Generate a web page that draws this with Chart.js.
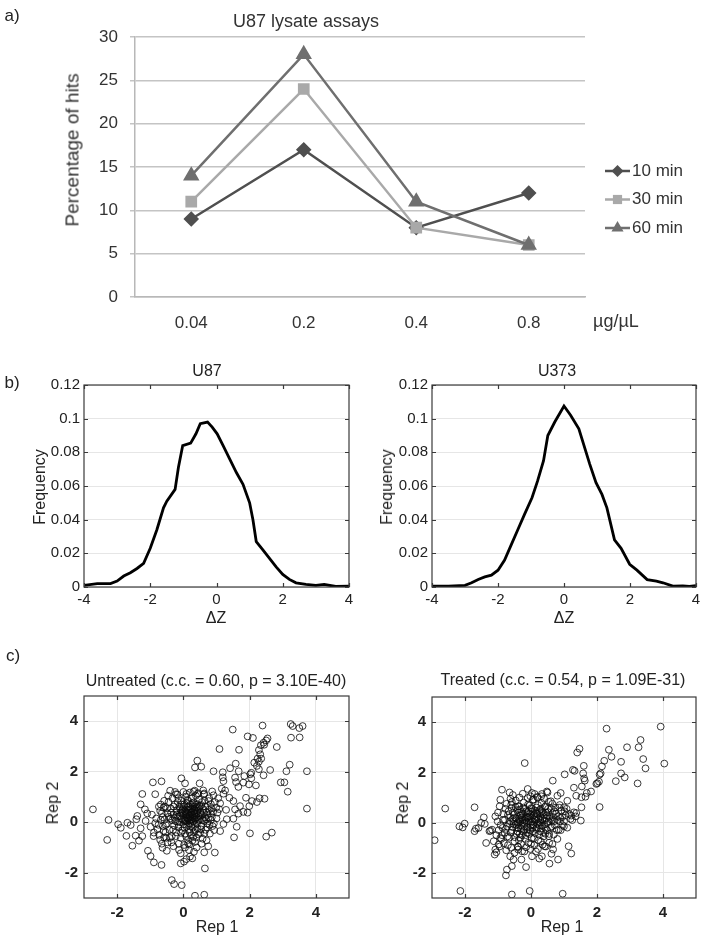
<!DOCTYPE html>
<html>
<head>
<meta charset="utf-8">
<script src="https://cdn.jsdelivr.net/npm/chart.js@4.4.1/dist/chart.umd.min.js"></script>
<style>
  body { margin: 0; background: #fff; font-family: "Liberation Sans", Arial, sans-serif; }
  #page { position: relative; width: 705px; height: 942px; overflow: hidden; }
  .panel { position: absolute; }
  .txt { position: absolute; white-space: nowrap; color: #222; line-height: 1; transform: translate(-50%, -50%); }
  .rot { transform: translate(-50%, -50%) rotate(-90deg); }
</style>
</head>
<body>
<div id="page">
  <div class="panel" style="left:0;top:0"><canvas id="chartA" width="705" height="340"></canvas></div>
  <div class="panel" style="left:0;top:340px"><canvas id="chartB1" width="360" height="290"></canvas></div>
  <div class="panel" style="left:350px;top:340px"><canvas id="chartB2" width="355" height="290"></canvas></div>
  <div class="panel" style="left:0;top:640px"><canvas id="chartC1" width="360" height="302"></canvas></div>
  <div class="panel" style="left:350px;top:640px"><canvas id="chartC2" width="355" height="302"></canvas></div>

  <div class="txt" style="left:12px;top:15px;font-size:17px">a)</div>
  <div class="txt" style="left:306px;top:21px;font-size:18px;color:#333">U87 lysate assays</div>
  <div class="txt rot" style="left:72px;top:150px;font-size:19px;color:#333">Percentage of hits</div>
  <div class="txt" style="left:616px;top:321px;font-size:18px;color:#333">µg/µL</div>

  <div class="txt" style="left:12px;top:382px;font-size:17px">b)</div>
  <div class="txt" style="left:207px;top:371px;font-size:16px">U87</div>
  <div class="txt" style="left:557px;top:371px;font-size:16px">U373</div>
  <div class="txt rot" style="left:40px;top:487px;font-size:16px">Frequency</div>
  <div class="txt rot" style="left:387px;top:487px;font-size:16px">Frequency</div>
  <div class="txt" style="left:216px;top:618px;font-size:16px">ΔZ</div>
  <div class="txt" style="left:564px;top:618px;font-size:16px">ΔZ</div>

  <div class="txt" style="left:13px;top:655px;font-size:17px">c)</div>
  <div class="txt" style="left:216px;top:681px;font-size:16px">Untreated (c.c. = 0.60, p = 3.10E-40)</div>
  <div class="txt" style="left:563px;top:680px;font-size:16px">Treated (c.c. = 0.54, p = 1.09E-31)</div>
  <div class="txt rot" style="left:53px;top:803px;font-size:16px">Rep 2</div>
  <div class="txt rot" style="left:403px;top:803px;font-size:16px">Rep 2</div>
  <div class="txt" style="left:217px;top:927px;font-size:16px">Rep 1</div>
  <div class="txt" style="left:562px;top:927px;font-size:16px">Rep 1</div>
</div>
<script>
// a) hits per lysate concentration
const doseLabels = ['0.04', '0.2', '0.4', '0.8'];
const hits10 = [9, 17, 8, 12];
const hits30 = [11, 24, 8, 6];
const hits60 = [14, 28, 11, 6];

// b) delta Z frequency curves
const u87Z = [-4, -3.6, -3.2, -3.0, -2.8, -2.6, -2.4, -2.2, -2.0, -1.8, -1.6, -1.5, -1.25, -1.15, -1.02, -0.78, -0.62, -0.49, -0.27, -0.13, 0.02, 0.2, 0.4, 0.6, 0.8, 1.0, 1.1, 1.2, 1.4, 1.6, 1.8, 2.0, 2.2, 2.4, 2.7, 3.0, 3.25, 3.6, 4.0];
const u87Freq = [0.001, 0.002, 0.002, 0.0035, 0.0065, 0.0085, 0.011, 0.014, 0.023, 0.034, 0.047, 0.051, 0.058, 0.071, 0.084, 0.0855, 0.091, 0.097, 0.098, 0.095, 0.091, 0.084, 0.076, 0.068, 0.061, 0.050, 0.040, 0.027, 0.022, 0.017, 0.012, 0.0075, 0.0045, 0.0025, 0.0015, 0.001, 0.0015, 0.0003, 0.0005];
const u373Z = [-4, -3.5, -3.0, -2.8, -2.6, -2.4, -2.2, -2.0, -1.8, -1.6, -1.4, -1.2, -0.97, -0.8, -0.62, -0.49, -0.28, 0, 0.2, 0.45, 0.78, 0.97, 1.15, 1.3, 1.53, 1.73, 1.99, 2.21, 2.52, 2.8, 3.0, 3.3, 3.6, 3.8, 4.0];
const u373Freq = [0.0005, 0.0005, 0.001, 0.0025, 0.0045, 0.006, 0.007, 0.010, 0.016, 0.025, 0.034, 0.043, 0.053, 0.063, 0.075, 0.090, 0.098, 0.1075, 0.102, 0.094, 0.073, 0.062, 0.055, 0.047, 0.028, 0.023, 0.0135, 0.010, 0.0044, 0.0035, 0.0025, 0.0005, 0.0007, 0.0003, 0.0008];
const zTicks = [-4, -2, 0, 2, 4];
const freqTicks = [0, 0.02, 0.04, 0.06, 0.08, 0.1, 0.12];

// c) replicate scatter, [rep1, rep2]
const repTicks = [-2, 0, 2, 4];
const untreatedPts = [
  [-2.73,0.51],[-2.26,0.09],[-2.30,-0.70],[-1.97,-0.08],[-1.89,-0.22],[-1.69,-0.02],[-1.59,-0.11],[-1.72,-0.54],[-1.54,-0.93],[-1.44,-0.53],
  [-1.39,0.25],[-1.42,0.12],[-1.29,0.71],[-1.24,1.12],[-1.16,0.51],[-1.09,0.35],[-1.14,0.05],[-1.34,-0.73],[-1.24,-0.55],[-1.29,-0.24],
  [-1.07,-1.13],[-0.99,-1.34],[-0.89,-1.59],[-0.66,-1.69],[-0.85,1.11],[-0.92,1.58],[-0.66,1.62],[-0.85,-0.04],[-0.99,-0.18],[-0.89,-0.41],
  [-0.73,-0.50],[-0.68,0.09],[-0.60,0.58],[-0.53,-0.11],[-0.58,-0.60],[-0.48,-0.80],[-0.63,-1.01],[-0.50,-1.13],[-0.22,1.11],[-0.06,1.74],
  [0.05,1.54],[-0.13,-1.10],[-0.08,-1.23],[0.02,-1.56],[0.09,-1.46],[-0.08,-1.63],[0.20,-1.36],[0.27,-1.43],[0.17,-1.10],[0.14,-0.84],
  [0.27,-0.73],[0.32,-1.17],[0.63,-1.19],[0.95,-1.20],[0.65,-1.83],[-0.35,-2.29],[-0.28,-2.45],[-0.05,-2.49],[0.35,-2.91],[0.63,-2.87],
  [0.49,1.54],[0.42,1.12],[0.63,1.14],[1.61,-0.18],[1.53,-0.60],[2.01,-0.44],[1.11,-0.35],[1.21,-0.07],[0.93,-0.31],[0.83,0.09],
  [2.50,-0.57],[2.67,-0.41],
  [1.49,3.67],[2.39,3.83],[1.94,3.40],[2.10,3.34],[2.54,3.32],[2.50,3.24],[2.42,3.15],[2.34,3.05],[2.44,3.07],[2.82,2.98],
  [3.24,3.89],[3.30,3.81],[3.50,3.73],[3.60,3.81],[3.25,3.35],[3.51,3.36],[1.09,2.90],[1.68,2.87],[2.28,2.86],[2.32,2.69],
  [2.24,2.52],[2.35,2.52],[2.28,2.40],[2.22,2.23],[2.28,2.10],[2.14,2.36],[0.42,2.44],[0.35,2.17],[0.54,2.20],[0.91,2.02],
  [1.19,1.98],[1.41,2.14],[1.58,2.32],[1.67,2.02],[2.05,1.96],[2.62,2.07],[3.21,2.28],[3.11,2.02],[3.73,2.02],[2.42,1.86],
  [1.84,1.83],[2.02,1.90],[1.56,1.77],[1.19,1.78],[1.59,1.59],[1.81,1.57],[1.21,1.63],[2.05,1.74],[2.19,1.46],[1.98,1.50],
  [1.66,1.40],[2.94,1.58],[3.05,1.58],[3.15,1.21],[1.16,1.33],[1.26,1.26],[0.87,1.22],[0.09,1.12],[0.31,1.21],[0.60,1.26],
  [0.91,1.07],[1.21,1.13],[1.39,0.97],[1.89,0.97],[2.07,0.84],[2.30,0.95],[2.45,0.93],[2.22,0.80],[1.51,0.84],[1.71,0.64],
  [1.99,0.64],[3.73,0.54],[1.94,0.38],[1.81,0.41],[1.56,0.51],[1.29,0.49],[1.11,0.75],[1.66,0.34],[1.51,0.14],[1.31,0.12],
  [1.03,0.38],[0.99,0.58],[0.76,0.84],[0.50,0.64],
  [-0.70,0.45],[-0.62,0.20],[-0.55,0.62],[-0.50,-0.05],[-0.48,0.35],[-0.45,0.80],[-0.42,-0.30],[-0.40,0.15],[-0.38,0.55],[-0.35,-0.55],
  [-0.33,0.95],[-0.30,0.30],[-0.28,-0.12],[-0.26,0.70],[-0.24,0.05],[-0.22,-0.40],[-0.20,0.48],[-0.18,1.10],[-0.16,0.22],[-0.15,-0.20],
  [-0.12,0.62],[-0.10,0.00],[-0.09,0.38],[-0.08,-0.62],[-0.06,0.85],[-0.05,0.15],[-0.03,-0.32],[-0.02,0.52],[0.00,0.28],[0.01,-0.08],
  [0.03,0.72],[0.04,0.10],[0.05,-0.45],[0.06,0.42],[0.08,1.02],[0.09,0.20],[0.10,-0.18],[0.11,0.60],[0.12,0.02],[0.13,0.35],
  [0.14,-0.70],[0.15,0.85],[0.16,0.15],[0.17,-0.30],[0.18,0.50],[0.19,0.25],[0.20,-0.05],[0.21,0.70],[0.22,0.38],[0.23,-0.52],
  [0.24,0.10],[0.25,0.95],[0.26,0.55],[0.27,0.22],[0.28,-0.22],[0.29,0.42],[0.30,0.02],[0.31,0.78],[0.32,-0.40],[0.33,0.30],
  [0.34,0.62],[0.35,-0.10],[0.36,0.48],[0.37,0.15],[0.38,1.05],[0.39,-0.60],[0.40,0.35],[0.42,0.72],[0.43,-0.25],[0.44,0.05],
  [0.45,0.55],[0.46,0.25],[0.48,0.90],[0.50,-0.42],[0.51,0.40],[0.52,0.12],[0.54,0.68],[0.55,-0.15],[0.57,0.30],[0.58,-0.65],
  [0.60,0.52],[0.62,0.05],[0.64,0.85],[0.65,0.20],[0.67,-0.30],[0.70,0.40],[0.72,-0.05],[0.74,0.65],[0.76,0.18],[0.80,-0.45],
  [0.82,0.35],[0.85,0.55],[0.88,-0.15],[-0.60,-0.35],[-0.58,0.85],[-0.52,-0.62],[-0.46,1.05],[-0.36,-0.80],[-0.25,1.20],[-0.14,-0.85],
  [0.02,-0.90],[0.18,-0.88],[0.35,-0.78],[0.55,-0.85],[0.70,-0.72],[-0.75,-0.10],[-0.68,0.70],[0.45,1.15],[0.62,1.10],[0.78,0.95],
  [-0.05,0.45],[0.14,0.48],[0.28,0.62],[0.06,0.30],[0.22,0.18],[0.32,0.45],[0.10,0.75],[-0.20,0.30],[0.40,0.60],[0.50,0.25],
  [-0.95,0.30],[-0.90,-0.55],[-0.82,0.15],[-0.78,-0.28],[-0.74,0.62],[-0.70,-0.70],[-0.65,0.35],[-0.62,-0.15],[-0.57,0.10],[-0.54,-0.40],
  [-0.49,0.55],[-0.44,0.22],[-0.41,-0.62],[-0.37,0.38],[-0.34,0.08],[-0.31,-0.30],[-0.29,0.62],[-0.27,0.18],[-0.23,-0.55],[-0.21,0.40],
  [-0.19,0.02],[-0.17,0.80],[-0.14,-0.10],[-0.11,0.25],[-0.10,0.52],[-0.07,-0.42],[-0.04,0.35],[-0.01,0.10],[0.01,0.62],[0.03,-0.22],
  [0.05,0.45],[0.07,0.05],[0.08,-0.55],[0.10,0.38],[0.12,0.88],[0.13,0.15],[0.15,-0.12],[0.16,0.62],[0.18,0.30],[0.19,-0.40],
  [0.21,0.08],[0.22,0.52],[0.24,-0.15],[0.26,0.30],[0.27,0.75],[0.29,0.05],[0.30,-0.58],[0.32,0.18],[0.33,0.52],[0.35,0.35],
  [0.37,-0.30],[0.38,0.70],[0.40,0.20],[0.41,-0.05],[0.43,0.45],[0.45,-0.48],[0.47,0.10],[0.49,0.62],[0.52,0.35],[0.53,-0.28],
  [0.56,0.80],[0.59,0.08],[0.61,0.38],[0.63,-0.45],[0.66,0.62],[0.68,0.12],[0.71,-0.20],[0.73,0.30],[0.77,0.50],[0.79,-0.10],
  [0.83,0.72],[0.86,0.20],[0.90,0.42],[0.92,-0.05],[0.95,0.80],[1.00,0.15],[1.05,0.95],[1.08,0.52],[-0.15,0.95],[0.00,1.20],
  [0.20,1.18],[0.34,1.25],[-0.40,1.25],[-0.65,-0.85],[-0.30,-0.95],[0.05,-1.00],[0.40,-1.00],[0.75,-0.95],[0.10,0.20],[0.25,0.40],
  [0.05,0.05],[0.35,0.10],[-0.05,0.70],[0.18,0.08]
];
const treatedPts = [
  [-2.92,-0.70],[-2.60,0.56],[-2.14,-2.72],[-2.17,-0.15],[-2.07,-0.19],[-2.01,-0.04],[-1.71,0.61],[-1.71,-0.34],[-1.67,-0.24],[-1.59,-0.21],
  [-1.43,0.21],[-1.51,-0.01],[-1.36,-0.81],[-1.40,-0.05],[-1.23,-0.32],[-1.26,-0.34],[-1.18,-0.28],[-1.13,-0.74],[-1.08,-1.07],[-1.05,-1.18],
  [-1.10,-1.27],[-0.98,-0.87],[-0.93,-0.61],[-0.88,1.31],[-0.93,0.91],[-1.08,0.25],[-1.01,0.05],[-0.86,-0.21],[-0.73,-1.87],[-0.76,-2.10],
  [-0.58,-1.73],[-0.53,-1.47],[-0.63,-1.34],[-0.58,-2.86],[-0.19,2.37],[-0.04,-2.72],[0.96,-2.83],[-0.65,1.20],[-0.58,0.82],[-0.39,0.65],
  [-0.10,1.34],[-0.02,1.05],[0.03,1.18],[0.19,1.02],[0.33,1.14],[0.48,1.24],[1.14,-0.94],[1.22,-1.23],[0.82,-1.47],[0.56,-1.63],
  [0.33,-1.34],[0.21,-1.05],[0.25,-1.43],[0.03,-1.34],[-0.02,-1.05],[-0.15,-1.77],[-0.29,-1.47],[-0.39,-0.97],[-0.39,-1.07],[-0.27,-1.14],
  [0.67,-1.07],[0.62,-1.24],[0.41,-0.94],[1.02,0.45],[0.89,0.19],[0.72,0.45],[1.00,-0.15],[0.84,-0.28],[0.69,-0.48],[0.54,-0.54],
  [0.43,-0.44],
  [2.29,3.74],[3.93,3.82],[3.32,3.29],[3.26,3.00],[2.91,3.00],[2.36,2.90],[2.44,2.62],[2.22,2.46],[2.15,2.24],[2.11,1.96],
  [2.08,1.91],[3.40,2.53],[3.47,2.16],[4.04,2.35],[2.73,2.42],[2.73,1.96],[2.84,1.80],[2.57,1.65],[3.23,1.56],[1.47,2.94],
  [1.40,2.79],[1.27,2.10],[1.32,2.06],[1.02,1.92],[0.66,1.67],[1.60,2.26],[1.58,1.96],[1.61,1.76],[1.63,1.67],[1.30,1.39],
  [1.54,1.44],[1.82,1.24],[1.69,1.18],[2.01,1.57],[2.06,1.63],[1.98,1.54],[2.08,0.62],[1.37,1.07],[1.53,1.01],[1.65,1.03],
  [1.10,0.87],[0.90,1.18],[0.80,1.07],[0.50,1.20],[0.31,1.05],[0.54,0.83],[0.87,0.70],[1.00,0.61],[1.30,0.41],[1.37,0.38],
  [1.22,0.28],[1.51,0.08],[1.53,0.61],[0.11,1.14],
  [-0.85,0.10],[-0.80,-0.40],[-0.78,0.55],[-0.72,-0.15],[-0.70,0.30],[-0.66,-0.60],[-0.64,0.05],[-0.60,0.72],[-0.58,-0.30],[-0.55,0.40],
  [-0.52,-0.05],[-0.50,-0.75],[-0.48,0.20],[-0.46,0.88],[-0.44,-0.45],[-0.42,0.50],[-0.40,0.02],[-0.38,-0.22],[-0.36,0.65],[-0.34,0.28],
  [-0.32,-0.60],[-0.30,-0.10],[-0.28,0.42],[-0.26,0.12],[-0.24,-0.35],[-0.22,0.80],[-0.20,-0.02],[-0.18,0.55],[-0.16,-0.50],[-0.14,0.25],
  [-0.12,-0.18],[-0.10,0.38],[-0.08,-0.80],[-0.06,0.05],[-0.04,0.68],[-0.02,-0.30],[0.00,0.18],[0.02,-0.62],[0.04,0.45],[0.06,-0.08],
  [0.08,0.92],[0.10,0.30],[0.12,-0.42],[0.14,0.10],[0.16,0.60],[0.18,-0.20],[0.20,0.35],[0.22,-0.70],[0.24,0.02],[0.26,0.50],
  [0.28,-0.35],[0.30,0.22],[0.32,0.78],[0.34,-0.12],[0.36,0.40],[0.38,-0.55],[0.40,0.08],[0.42,0.62],[0.45,-0.25],[0.48,0.28],
  [0.50,-0.02],[0.52,0.55],[0.55,-0.45],[0.58,0.15],[0.60,0.85],[0.63,-0.15],[0.66,0.38],[0.70,0.05],[0.74,0.60],[0.78,-0.30],
  [0.82,0.25],[0.88,0.05],[0.92,0.48],[0.96,-0.10],[-0.62,0.95],[-0.35,1.00],[-0.10,0.98],[0.20,1.00],[-0.90,-0.65],[-0.70,-0.90],
  [-0.40,-0.95],[-0.15,-0.98],[0.10,-0.90],[0.35,-0.88],[0.55,-0.80],[0.80,-0.65],[-0.25,-0.02],[-0.05,0.25],[0.05,-0.20],[-0.18,0.15],
  [-0.30,0.30],[0.15,0.40],[-0.45,-0.20],[0.25,-0.10],[-0.12,-0.40],[0.02,0.55],[-0.35,-0.45],[0.30,0.55],[0.45,0.40],[-0.55,0.15],
  [1.05,0.30],[1.10,-0.20],[1.20,0.15],
  [-1.00,0.40],[-0.98,-0.30],[-0.95,0.65],[-0.92,-0.10],[-0.88,-0.50],[-0.84,0.35],[-0.82,-0.82],[-0.79,0.12],[-0.76,-0.25],[-0.74,0.75],
  [-0.71,-0.55],[-0.68,0.45],[-0.66,-0.05],[-0.63,0.22],[-0.61,-0.40],[-0.59,0.58],[-0.56,-0.18],[-0.54,0.05],[-0.51,0.32],[-0.49,-0.58],
  [-0.47,0.62],[-0.45,-0.08],[-0.43,0.15],[-0.41,-0.35],[-0.39,0.40],[-0.37,-0.70],[-0.35,0.10],[-0.33,0.52],[-0.31,-0.22],[-0.29,0.20],
  [-0.27,-0.50],[-0.25,0.35],[-0.23,0.60],[-0.21,-0.15],[-0.19,0.08],[-0.17,-0.65],[-0.15,0.45],[-0.13,0.02],[-0.11,-0.28],[-0.09,0.72],
  [-0.07,0.18],[-0.05,-0.45],[-0.03,0.35],[-0.01,-0.12],[0.01,0.58],[0.03,0.05],[0.05,-0.35],[0.07,0.28],[0.09,-0.62],[0.11,0.12],
  [0.13,0.48],[0.15,-0.25],[0.17,0.22],[0.19,-0.05],[0.21,0.70],[0.23,0.15],[0.25,-0.48],[0.27,0.38],[0.29,0.00],[0.31,-0.22],
  [0.33,0.45],[0.35,0.12],[0.37,-0.38],[0.39,0.30],[0.41,-0.08],[0.44,0.65],[0.46,0.18],[0.49,-0.30],[0.51,0.42],[0.53,0.05],
  [0.56,0.25],[0.59,-0.20],[0.61,0.55],[0.64,0.08],[0.68,0.22],[0.72,-0.10],[0.76,0.35],[0.80,0.10],[0.85,0.60],[0.90,-0.30],
  [0.95,0.22],[1.00,0.05],[1.08,0.55],[1.15,0.35],[1.25,0.10],[1.35,0.25],[-1.05,-0.50],[-0.95,-0.95],[-0.75,-1.10],[-0.60,-1.00],
  [-0.50,-1.20],[-0.30,-0.85],[-0.20,-1.15],[0.00,-0.85],[0.15,-1.15],[0.30,-0.75],[0.45,-0.95],[0.65,-0.85],[-0.55,1.10],[-0.25,1.15],
  [0.05,0.90],[0.40,0.95],[0.65,0.75],[-0.12,0.20],[0.08,-0.10],[-0.22,-0.30],[0.18,0.35],[-0.40,-0.05],[0.00,0.00],[-0.08,0.45],
  [0.28,0.10],[-0.32,0.05]
];

Chart.defaults.font.family = '"Liberation Sans", Arial, sans-serif';
Chart.defaults.color = '#222';

function drawMarker(ctx, style, x, y, r, color) {
  ctx.fillStyle = color;
  ctx.beginPath();
  if (style === 'rectRot') {
    ctx.moveTo(x, y - r); ctx.lineTo(x + r, y); ctx.lineTo(x, y + r); ctx.lineTo(x - r, y);
  } else if (style === 'rect') {
    const h = r * Math.SQRT1_2;
    ctx.rect(x - h, y - h, 2 * h, 2 * h);
  } else {
    ctx.moveTo(x, y - r); ctx.lineTo(x + r * 0.866, y + r / 2); ctx.lineTo(x - r * 0.866, y + r / 2);
  }
  ctx.closePath();
  ctx.fill();
}

// legend to the right of panel a, line + marker like the spreadsheet one
const sideLegend = {
  id: 'sideLegend',
  afterDraw(chart, args, o) {
    const ctx = chart.ctx;
    chart.data.datasets.forEach((ds, i) => {
      const y = o.top + i * o.gap;
      ctx.save();
      ctx.strokeStyle = ds.borderColor;
      ctx.lineWidth = ds.borderWidth;
      ctx.beginPath();
      ctx.moveTo(o.x, y);
      ctx.lineTo(o.x + o.len, y);
      ctx.stroke();
      drawMarker(ctx, ds.pointStyle, o.x + o.len / 2, y, ds.pointRadius, ds.pointBackgroundColor);
      ctx.fillStyle = o.color;
      ctx.font = o.font;
      ctx.textBaseline = 'middle';
      ctx.fillText(ds.label, o.x + o.len + 2, y);
      ctx.restore();
    });
  }
};

// matlab style box with inward ticks
const framePlugin = {
  id: 'frame',
  afterDatasetsDraw(chart, args, o) {
    const { ctx, chartArea: a, scales } = chart;
    ctx.save();
    ctx.strokeStyle = o.color;
    ctx.lineWidth = o.width;
    ctx.beginPath();
    scales.x.ticks.forEach((t) => {
      const x = Math.round(scales.x.getPixelForValue(t.value)) + 0.5;
      ctx.moveTo(x, a.bottom); ctx.lineTo(x, a.bottom - o.tick);
      ctx.moveTo(x, a.top); ctx.lineTo(x, a.top + o.tick);
    });
    scales.y.ticks.forEach((t) => {
      const y = Math.round(scales.y.getPixelForValue(t.value)) + 0.5;
      ctx.moveTo(a.left, y); ctx.lineTo(a.left + o.tick, y);
      ctx.moveTo(a.right, y); ctx.lineTo(a.right - o.tick, y);
    });
    ctx.stroke();
    ctx.strokeRect(a.left, a.top, a.right - a.left, a.bottom - a.top);
    ctx.restore();
  }
};

new Chart(document.getElementById('chartA'), {
  type: 'line',
  data: {
    labels: doseLabels,
    datasets: [
      { label: '10 min', data: hits10, borderColor: '#4f4f4f', backgroundColor: '#4f4f4f', pointBackgroundColor: '#4f4f4f', pointBorderColor: '#4f4f4f', pointStyle: 'rectRot', pointRadius: 6, borderWidth: 2.5, order: 2 },
      { label: '30 min', data: hits30, borderColor: '#a9a9a9', backgroundColor: '#a9a9a9', pointBackgroundColor: '#a9a9a9', pointBorderColor: '#a9a9a9', pointStyle: 'rect', pointRadius: 6.5, borderWidth: 2.5, order: 1 },
      { label: '60 min', data: hits60, borderColor: '#6f6f6f', backgroundColor: '#6f6f6f', pointBackgroundColor: '#6f6f6f', pointBorderColor: '#6f6f6f', pointStyle: 'triangle', pointRadius: 7, borderWidth: 2.5, order: 0 }
    ]
  },
  options: {
    responsive: false,
    animation: false,
    layout: { padding: { left: 0, top: 37, right: 120, bottom: 0 }, autoPadding: false },
    plugins: {
      legend: { display: false },
      tooltip: { enabled: false },
      sideLegend: { x: 605, len: 25, top: 171, gap: 28.5, font: '17px "Liberation Sans"', color: '#333' }
    },
    scales: {
      x: {
        offset: true,
        grid: { display: false, drawTicks: false },
        border: { display: true, color: '#b8b8b8', width: 1.5 },
        ticks: { font: { size: 17 }, color: '#333', padding: 16 },
        afterFit: (s) => { s.height = 43; }
      },
      y: {
        min: 0,
        max: 30,
        ticks: { stepSize: 5, font: { size: 17 }, color: '#333', padding: 12 },
        grid: { color: '#c4c4c4', lineWidth: 1.5, tickLength: 5 },
        border: { color: '#b8b8b8', width: 1.5 },
        afterFit: (s) => { s.width = 135; }
      }
    }
  },
  plugins: [sideLegend]
});

function curveChart(id, xs, ys, yWidth, padRight) {
  return new Chart(document.getElementById(id), {
    type: 'scatter',
    data: {
      datasets: [{
        data: xs.map((x, i) => ({ x, y: ys[i] })),
        showLine: true,
        borderColor: '#000',
        borderWidth: 2.8,
        pointRadius: 0,
        tension: 0
      }]
    },
    options: {
      responsive: false,
      animation: false,
      layout: { padding: { left: 0, top: 45, right: padRight, bottom: 0 }, autoPadding: false },
      plugins: {
        legend: { display: false },
        tooltip: { enabled: false },
        frame: { color: '#3a3a3a', width: 1.2, tick: 4 }
      },
      scales: {
        x: {
          min: -4, max: 4,
          afterBuildTicks: (s) => { s.ticks = zTicks.map((v) => ({ value: v })); },
          grid: { display: false, drawTicks: false },
          border: { display: false },
          ticks: { font: { size: 15 }, color: '#222', padding: 4 },
          afterFit: (s) => { s.height = 43; }
        },
        y: {
          min: 0, max: 0.12,
          afterBuildTicks: (s) => { s.ticks = freqTicks.map((v) => ({ value: v })); },
          grid: { color: '#e6e6e6', lineWidth: 1, drawTicks: false },
          border: { display: false },
          ticks: { font: { size: 15 }, color: '#222', padding: 4, callback: (v) => String(parseFloat(v.toFixed(3))) },
          afterFit: (s) => { s.width = yWidth; }
        }
      }
    },
    plugins: [framePlugin]
  });
}

function repChart(id, pts, yWidth, padTop, padRight) {
  return new Chart(document.getElementById(id), {
    type: 'scatter',
    data: {
      datasets: [{
        data: pts.map((p) => ({ x: p[0], y: p[1] })),
        pointRadius: 3.4,
        pointBorderWidth: 1,
        pointBorderColor: 'rgba(10,10,10,0.8)',
        pointBackgroundColor: 'rgba(0,0,0,0)'
      }]
    },
    options: {
      responsive: false,
      animation: false,
      layout: { padding: { left: 0, top: padTop, right: padRight, bottom: 0 }, autoPadding: false },
      plugins: {
        legend: { display: false },
        tooltip: { enabled: false },
        frame: { color: '#3a3a3a', width: 1.2, tick: 4 }
      },
      scales: {
        x: {
          min: -3, max: 5,
          afterBuildTicks: (s) => { s.ticks = repTicks.map((v) => ({ value: v })); },
          grid: { color: '#e6e6e6', lineWidth: 1, drawTicks: false },
          border: { display: false },
          ticks: { font: { size: 15, weight: 'bold' }, color: '#222', padding: 6 },
          afterFit: (s) => { s.height = 44; }
        },
        y: {
          min: -3, max: 5,
          afterBuildTicks: (s) => { s.ticks = repTicks.map((v) => ({ value: v })); },
          grid: { color: '#e6e6e6', lineWidth: 1, drawTicks: false },
          border: { display: false },
          ticks: { font: { size: 15, weight: 'bold' }, color: '#222', padding: 6 },
          afterFit: (s) => { s.width = yWidth; }
        }
      }
    },
    plugins: [framePlugin]
  });
}

curveChart('chartB1', u87Z, u87Freq, 84, 11);
curveChart('chartB2', u373Z, u373Freq, 82, 9);
repChart('chartC1', untreatedPts, 84, 56, 11);
repChart('chartC2', treatedPts, 82, 57, 9);
</script>
</body>
</html>
